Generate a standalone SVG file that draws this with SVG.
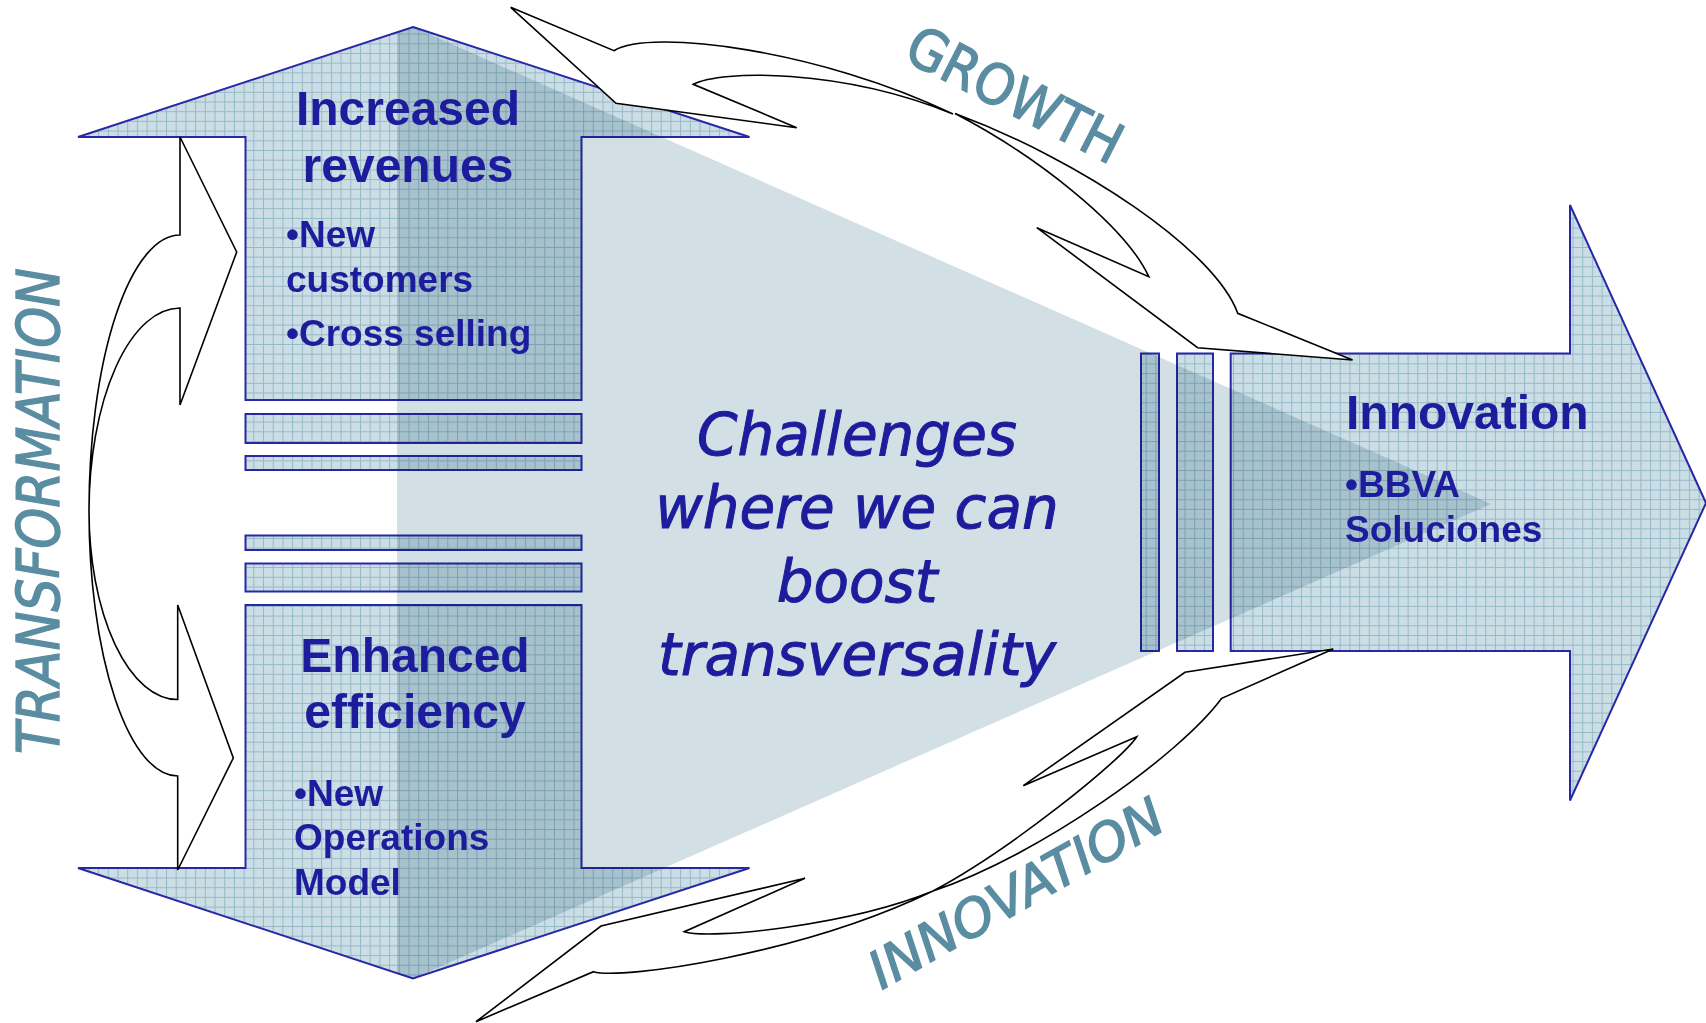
<svg xmlns="http://www.w3.org/2000/svg" width="1706" height="1023" viewBox="0 0 1706 1023">
<defs>
<pattern id="grid" patternUnits="userSpaceOnUse" x="1.1" y="4.5" width="9.7" height="9.7">
<rect width="9.7" height="9.7" fill="#cbdde5"/>
<path d="M0 0.5H9.7M0.5 0V9.7" stroke="#96b9c7" stroke-width="1" fill="none"/>
</pattern>
</defs>
<style>
.blk{fill:url(#grid);stroke:#2828a6;stroke-width:2;mix-blend-mode:multiply}
.cur{fill:#ffffff;stroke:#000000;stroke-width:1.6;stroke-linejoin:miter}
.hd{font-family:"Liberation Sans",Arial,sans-serif;font-weight:bold;fill:#1c1c9c}
.h1{font-size:48px}
.b{font-size:37px}
.mid{text-anchor:middle}
.ctr{font-family:"DejaVu Sans",Verdana,sans-serif;font-style:italic;font-size:58px;fill:#1c1c9c;stroke:#1c1c9c;stroke-width:1;text-anchor:middle}
.lbl{font-family:"DejaVu Sans",Verdana,sans-serif;fill:#5a8da2;stroke:#5a8da2;stroke-width:1.4;text-anchor:middle}
</style>
<rect width="1706" height="1023" fill="#ffffff"/>
<g id="spotlight">
<polygon points="397,32.3 413,27 1491,504 413,978.5 397,973.2" fill="#d2dfe5"/>
</g>
<g id="increased-revenues">
<polygon class="blk" points="413,27 749.5,137 581.5,137 581.5,400 245.5,400 245.5,137 78,137"/>
<text class="hd h1 mid" x="408" y="125">Increased</text>
<text class="hd h1 mid" x="408" y="181.7">revenues</text>
<text class="hd b" x="286" y="247">•New</text>
<text class="hd b" x="286" y="292">customers</text>
<text class="hd b" x="286" y="346">•Cross selling</text>
</g>
<g id="bars-left">
<rect class="blk" x="245.5" y="414" width="336" height="29"/>
<rect class="blk" x="245.5" y="456" width="336" height="14"/>
<rect class="blk" x="245.5" y="535.5" width="336" height="14.5"/>
<rect class="blk" x="245.5" y="563.5" width="336" height="28"/>
</g>
<g id="enhanced-efficiency">
<polygon class="blk" points="245.5,605 581.5,605 581.5,868 749.5,868 413,978.5 78,868 245.5,868"/>
<text class="hd h1 mid" x="415" y="672">Enhanced</text>
<text class="hd h1 mid" x="415" y="727.7">efficiency</text>
<text class="hd b" x="294" y="806">•New</text>
<text class="hd b" x="294" y="850">Operations</text>
<text class="hd b" x="294" y="895">Model</text>
</g>
<g id="innovation">
<rect class="blk" x="1141" y="353.5" width="18" height="297.5"/>
<rect class="blk" x="1177" y="353.5" width="36" height="297.5"/>
<polygon class="blk" points="1230.7,353.5 1570,353.5 1570,205 1706,503 1570,800.5 1570,651 1230.7,651"/>
<text class="hd h1" x="1346" y="429">Innovation</text>
<text class="hd b" x="1345" y="497">•BBVA</text>
<text class="hd b" x="1345" y="542">Soluciones</text>
</g>
<g id="challenges">
<text class="ctr" x="857" y="455">Challenges</text>
<text class="ctr" x="857" y="528.3">where we can</text>
<text class="ctr" x="857" y="601.7">boost</text>
<text class="ctr" x="857" y="675">transversality</text>
</g>
<g id="connectors">
<path class="cur" d="M89,511 A91,276 0 0 1 180,235 L180,137 L236.7,252 L180,405 L180,308 A91,203 0 0 0 89,511 Z"/>
<path class="cur" d="M89,511 A88.7,188.5 0 0 0 177.7,699.5 L177.7,605 L233.3,758 L177.7,870 L177.7,776 A88.7,265 0 0 1 89,511 Z"/>
<path class="cur" d="M953,114 C840,68 720,70 693.3,84.3 L796.7,127.7 L616,103.3 L510.7,7.3 L614,50.7 C650,28 820,50 953,114 Z"/>
<path class="cur" d="M955,113.5 C1080,160 1215,250 1237.7,313.3 L1352.6,360 L1197.6,347.7 L1036.8,227.7 L1148.8,276.7 C1125,225 1035,155 955,113.5 Z"/>
<path class="cur" d="M933,891 C850,925 710,940 684.3,931.7 L805,878.3 L601,926 L476,1021.7 L593.5,971.7 C620,980 800,955 933,891 Z"/>
<path class="cur" d="M933,891 C1040,855 1180,755 1221.7,698.3 L1333.3,649 L1185,672.3 L1023.3,785.7 L1136.7,736.7 C1122,760 1010,850 933,891 Z"/>
</g>
<g id="labels">
<text class="lbl" font-size="56" textLength="234" lengthAdjust="spacingAndGlyphs" transform="translate(1006,112) rotate(27)">GROWTH</text>
<text class="lbl" font-size="52" font-style="italic" textLength="330" lengthAdjust="spacingAndGlyphs" transform="translate(1025,909) rotate(-29.5)">INNOVATION</text>
<text class="lbl" font-size="59" font-style="italic" textLength="486" lengthAdjust="spacingAndGlyphs" transform="translate(59,511) rotate(-90)">TRANSFORMATION</text>
</g>
</svg>
